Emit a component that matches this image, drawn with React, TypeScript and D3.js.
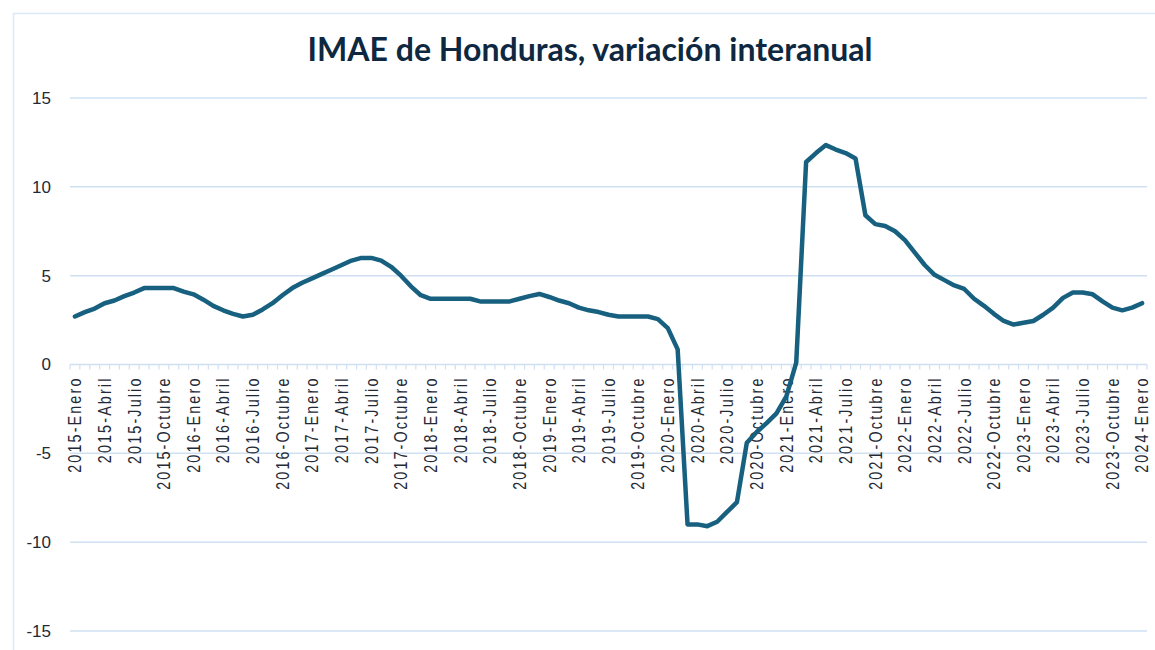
import React, { useEffect, useRef } from "react";
import * as d3 from "d3";

// Categorías: meses de 2015-Enero a 2024-Enero
const years = [2015, 2016, 2017, 2018, 2019, 2020, 2021, 2022, 2023, 2024];
const months = [
  "Enero", "Febrero", "Marzo", "Abril", "Mayo", "Junio",
  "Julio", "Agosto", "Septiembre", "Octubre", "Noviembre", "Diciembre",
];
const tickMonths = ["Enero", "Abril", "Julio", "Octubre"];
const yTicks = [15, 10, 5, 0, -5, -10, -15];

// Variación interanual (%)
const variacion = [
  // 2015
  2.7, 2.95, 3.15, 3.45, 3.6, 3.85, 4.05, 4.3, 4.3, 4.3, 4.3, 4.1,
  // 2016
  3.95, 3.65, 3.3, 3.05, 2.85, 2.7, 2.8, 3.1, 3.45, 3.9, 4.3, 4.6,
  // 2017
  4.85, 5.1, 5.35, 5.6, 5.85, 6.0, 6.0, 5.85, 5.5, 5.0, 4.4, 3.9,
  // 2018
  3.7, 3.7, 3.7, 3.7, 3.7, 3.55, 3.55, 3.55, 3.55, 3.7, 3.85, 3.97,
  // 2019
  3.8, 3.6, 3.45, 3.2, 3.05, 2.95, 2.8, 2.7, 2.7, 2.7, 2.7, 2.55,
  // 2020
  2.05, 0.85, -9.0, -9.0, -9.1, -8.85, -8.3, -7.75, -4.4, -3.8, -3.3, -2.75,
  // 2021
  -1.8, 0.1, 11.4, 11.9, 12.35, 12.1, 11.9, 11.6, 8.4, 7.9, 7.8, 7.5,
  // 2022
  7.0, 6.3, 5.6, 5.05, 4.75, 4.45, 4.25, 3.7, 3.3, 2.85, 2.45, 2.25,
  // 2023
  2.35, 2.45, 2.8, 3.2, 3.75, 4.05, 4.05, 3.95, 3.55, 3.2, 3.05, 3.2,
  // 2024
  3.45,
];

const categories: string[] = [];
years.forEach((yr) =>
  months.forEach((m) => {
    if (categories.length < variacion.length) categories.push(`${yr}-${m}`);
  })
);

const App: React.FC = () => {
  const svgRef = useRef<SVGSVGElement>(null);

  useEffect(() => {
    if (!svgRef.current) return;
    const svg = d3.select(svgRef.current);
    svg.selectAll("*").remove();

    const width = 1155;
    const height = 650;
    const margin = { top: 98, right: 8, bottom: 19, left: 70 };
    const plotRight = 1147;

    // Chart frame
    svg
      .append("rect")
      .attr("x", 13.5)
      .attr("y", 13.5)
      .attr("width", width)
      .attr("height", height)
      .attr("fill", "#fff")
      .attr("stroke", "#dbe8f6")
      .attr("stroke-width", 1.5);

    const x = d3
      .scaleBand<string>()
      .domain(categories)
      .range([margin.left, plotRight])
      .paddingInner(0)
      .paddingOuter(0);

    const y = d3
      .scaleLinear()
      .domain([-15, 15])
      .range([height - margin.bottom, margin.top]);

    // Gridlines
    svg
      .append("g")
      .selectAll("line")
      .data(yTicks)
      .enter()
      .append("line")
      .attr("x1", margin.left)
      .attr("x2", plotRight)
      .attr("y1", (d) => y(d))
      .attr("y2", (d) => y(d))
      .attr("stroke", "#cfe0f3")
      .attr("stroke-width", 1.5);

    // Y labels
    svg
      .append("g")
      .selectAll("text")
      .data(yTicks)
      .enter()
      .append("text")
      .attr("x", 51)
      .attr("y", (d) => y(d))
      .attr("dy", "0.35em")
      .attr("text-anchor", "end")
      .attr("fill", "#1f2a36")
      .style("font-family", "'Liberation Sans', Arial, sans-serif")
      .style("font-size", "17px")
      .text((d) => String(d));

    // X axis tick marks at category boundaries
    const y0 = y(0);
    const bounds = categories.map((c) => x(c) as number).concat([plotRight]);
    svg
      .append("g")
      .selectAll("line")
      .data(bounds)
      .enter()
      .append("line")
      .attr("x1", (d) => d)
      .attr("x2", (d) => d)
      .attr("y1", y0)
      .attr("y2", y0 + 5)
      .attr("stroke", "#cfe0f3")
      .attr("stroke-width", 1.2);

    // X labels every 3 months
    const labelled = categories.filter((c) =>
      tickMonths.includes(c.split("-")[1])
    );
    svg
      .append("g")
      .selectAll("text")
      .data(labelled)
      .enter()
      .append("text")
      .attr(
        "transform",
        (d) =>
          `translate(${(x(d) as number) + x.bandwidth() / 2},${y0 + 12}) rotate(-90) scale(0.82,1)`
      )
      .attr("dy", "0.36em")
      .attr("text-anchor", "end")
      .attr("fill", "#1f2a36")
      .style("font-family", "'Liberation Sans', Arial, sans-serif")
      .style("font-size", "17.5px")
      .style("letter-spacing", "2.6px")
      .text((d) => d);

    // Line
    const line = d3
      .line<number>()
      .x((_, i) => (x(categories[i]) as number) + x.bandwidth() / 2)
      .y((d) => y(d));

    svg
      .append("path")
      .datum(variacion)
      .attr("d", line)
      .attr("fill", "none")
      .attr("stroke", "#17607f")
      .attr("stroke-width", 4.5)
      .attr("stroke-linejoin", "round")
      .attr("stroke-linecap", "round");

    // Title
    svg
      .append("text")
      .attr("x", 590)
      .attr("y", 61)
      .attr("text-anchor", "middle")
      .attr("fill", "#0e2841")
      .attr("textLength", 565)
      .attr("lengthAdjust", "spacingAndGlyphs")
      .style("font-family", "Lato, 'Open Sans', sans-serif")
      .style("font-weight", 700)
      .style("font-size", "32px")
      .text("IMAE de Honduras, variación interanual");
  }, []);

  return (
    <svg
      ref={svgRef}
      width={1155}
      height={650}
      style={{ position: "absolute", left: 0, top: 0, display: "block" }}
    />
  );
};

export default App;
